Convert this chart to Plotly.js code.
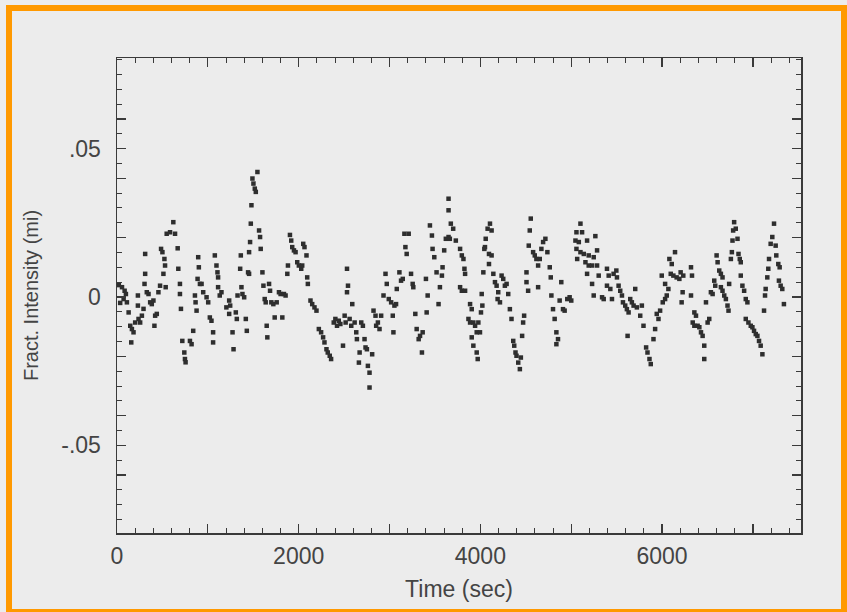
<!DOCTYPE html>
<html>
<head>
<meta charset="utf-8">
<script src="https://cdn.plot.ly/plotly-3.0.1.min.js"></script>
<style>
  html, body { margin:0; padding:0; background:#f3f3f3; }
  #wrap { position:relative; width:847px; height:612px; overflow:hidden; }
  #chart { position:absolute; left:0; top:0; width:847px; height:612px; }
  #frame { position:absolute; left:6px; top:5px; width:841px; height:610px; box-sizing:border-box;
           border:6px solid #ff9900; pointer-events:none; }
</style>
</head>
<body>
<div id="wrap">
  <div id="chart"></div>
  <div id="frame"></div>
</div>
<script>
// Time (sec) and fractional intensity in six segments
const time1 = [20,35,55,84,98,73,109,128,146,164,182,157,200,237,255,274,230,230,292,310,310,303,328,347,365,383,401,420,412,438,456,474,485,500,511,522,529,536,547,584,620,639,668,675,693,693,704,719,741,748,755,803,821,839,858,865,876,894,901,887,913,931,949,986,1004,1022,1040,1058,1058,1077,1095,1106,1113,1113,1131,1150,1204];
const value1 = [0.004,-0.002,0.0033,0.0021,0.001,-0.0007,-0.0018,-0.0052,-0.0097,-0.0108,-0.0119,-0.0153,-0.0086,-0.0074,-0.0086,-0.0063,0.0005,-0.0029,-0.004,0.0145,0.0078,0.0044,0.0016,0.001,-0.0018,-0.0024,-0.0012,-0.0063,-0.0097,-0.0057,0.0016,0.0038,0.0162,0.0151,0.0078,0.0128,0.0106,0.0033,0.0213,0.0218,0.0252,0.0213,0.0164,0.0095,0.0044,0.001,-0.004,-0.0148,-0.0187,-0.0209,-0.022,-0.0148,-0.0159,-0.0114,0.0005,-0.0018,-0.0046,0.0134,0.01,0.0061,0.0044,0.0044,0.0016,-0.0001,-0.0018,-0.0069,-0.008,-0.0119,-0.0153,0.014,0.0106,0.0083,0.0066,0.0033,0.0005,0.0016,-0.0035];

const time2 = [1235,1246,1235,1272,1283,1308,1319,1327,1356,1363,1370,1381,1400,1418,1429,1443,1454,1454,1465,1473,1480,1491,1502,1517,1528,1546,1564,1575,1582,1601,1612,1626,1637,1648,1655,1674,1685,1699,1721,1736,1758,1783,1801,1820,1838,1856,1875,1882,1904,1918,1929,1948,1966,1984,2002,2028,2039,2050,2064,2086,2094,2101,2130,2149,2174,2196,2222,2247,2269,2284,2306,2320,2342,2357,2386,2404,2422,2441,2459,2488];
const value2 = [-0.0012,-0.0029,-0.0057,-0.0119,-0.0176,-0.0052,-0.0074,0.0005,0.0095,0.014,0.0033,0.001,-0.0001,-0.0074,-0.0114,0.0083,0.0078,0.0151,0.0185,0.0247,0.0309,0.0399,0.0382,0.0365,0.0354,0.0421,0.0224,0.0202,0.0162,0.0083,0.0038,-0.0007,-0.0018,-0.0097,-0.0136,0.0044,0.0021,-0.0018,-0.0024,-0.0069,-0.0018,0.0016,0.001,-0.0069,0.001,0.0005,0.0078,0.0106,0.0209,0.019,0.0168,0.0157,0.0151,0.0117,0.0106,0.0095,0.0106,0.0179,0.0168,0.014,0.0066,0.0044,-0.0012,-0.0024,-0.0035,-0.0046,-0.0108,-0.0119,-0.0136,-0.0153,-0.0176,-0.0187,-0.0198,-0.0209,-0.0086,-0.0074,-0.0097,-0.008,-0.0091,-0.0164];

const time3 = [2532,2543,2532,2590,2506,2517,2561,2579,2616,2634,2641,2689,2707,2725,2736,2751,2671,2663,2762,2780,2809,2780,2824,2846,2872,2890,2853,2908,2934,2956,2970,2992,3018,3036,3054,3072,3043,3080,3109,3127,3146,3164,3175,3189,3211,3237,3255,3262,3284,3299,3321,3336,3357,3365,3401,3420,3409,3445,3467,3474,3493,3518,3540,3555,3577,3584,3602,3620,3650,3650,3675,3701,3650,3664,3730];
const value3 = [0.0095,0.0038,0.0016,-0.0024,-0.0063,-0.0086,-0.0074,-0.0097,-0.0086,-0.0119,-0.0142,-0.0086,-0.0097,-0.0142,-0.017,-0.0176,-0.0187,-0.0221,-0.0232,-0.0255,-0.0193,-0.0305,-0.0046,-0.0063,-0.0086,-0.0108,-0.0097,-0.0063,0.0005,0.0078,0.0044,-0.0007,-0.0018,-0.0063,-0.0029,-0.0024,-0.0119,0.0027,0.0083,0.0055,0.0061,0.0213,0.0168,0.0145,0.0213,0.0078,0.0044,0.0033,-0.0057,-0.0108,-0.0142,-0.0131,-0.0187,-0.0119,0.0061,0.0005,-0.0052,0.0241,0.0207,0.0162,0.0134,0.0083,-0.0024,0.0033,0.0072,0.01,0.0157,0.0196,0.0331,0.0292,0.0247,0.023,0.0202,0.0196,0.019];

const time4 = [3777,3796,3814,3825,3832,3777,3796,3832,3887,3905,3869,3887,3923,3942,3978,3960,3996,3905,3923,3960,3971,4015,4022,4007,4033,4051,4059,4080,4106,4124,4044,4095,4124,4095,4143,4161,4179,4197,4190,4216,4234,4252,4270,4289,4307,4325,4343,4362,4373,4387,4398,4417,4435,4446,4460,4471,4482,4508,4508,4526,4544,4555,4533,4581,4599,4617,4636,4654,4672,4691,4716,4738,4636,4764,4775,4782,4800,4818,4837,4855,4837,4873,4891,4910,4928,4957,4983,5001];
const value4 = [0.0162,0.014,0.0128,0.0095,0.0078,0.0033,0.0021,0.0021,-0.0024,-0.0041,-0.0074,-0.0086,-0.0086,-0.0097,-0.0086,-0.0119,-0.0119,-0.0136,-0.0164,-0.0187,-0.0209,0.001,-0.0029,-0.0052,0.0083,0.0168,0.0196,0.023,0.0247,0.0224,0.0162,0.0145,0.014,0.0111,0.0078,0.005,0.0038,0.0016,-0.0007,-0.0018,0.0072,0.0061,0.0038,0.0044,0.001,-0.0041,-0.0074,-0.0148,-0.0164,-0.0187,-0.0198,-0.0221,-0.0243,-0.0204,-0.0131,-0.0086,-0.0063,0.0083,0.005,0.0021,0.0224,0.0264,0.0173,0.0151,0.014,0.0128,0.0106,0.0128,0.0162,0.0185,0.0196,0.0151,0.0033,0.01,0.0066,0.0005,-0.0041,-0.0074,-0.0119,-0.0142,-0.0159,-0.0012,0.005,-0.0041,-0.0046,-0.0007,-0.0001,-0.0012];

const time5 = [5102,5058,5120,5047,5084,5175,5266,5058,5102,5139,5193,5248,5066,5157,5193,5230,5285,5285,5175,5303,5230,5340,5248,5358,5394,5413,5394,5431,5449,5467,5497,5504,5522,5540,5559,5570,5595,5613,5632,5621,5650,5668,5687,5705,5723,5760,5778,5796,5825,5840,5862,5876,5906,5924,5942,5961,5979,6008,6034,6052,6070,5997,6034,6081,6107,6143,6096,6125,6161,6191,6205,6234,6227,6216];
const value5 = [0.0247,0.0218,0.0218,0.019,0.0185,0.019,0.0205,0.0162,0.0151,0.0145,0.014,0.0134,0.0128,0.0117,0.0106,0.0106,0.0157,0.0106,0.0078,0.0072,0.0044,-0.0001,0.0005,-0.0007,0.0095,0.0072,0.0038,0.0027,-0.0007,0.0078,0.0089,0.0066,0.0038,0.0021,0.0005,-0.0018,-0.0029,-0.0041,-0.0052,-0.0131,-0.0007,-0.0018,-0.0029,0.0027,-0.0035,-0.0063,-0.0029,-0.0097,-0.017,-0.0187,-0.0209,-0.0226,-0.0142,-0.0108,-0.0057,-0.0074,-0.0046,-0.0018,-0.0007,0.0005,0.0027,0.0072,0.0044,0.0128,0.0111,0.0151,0.0078,0.0072,0.0066,0.0061,0.0083,0.0072,0.0016,-0.0018];

const time6 = [6319,6330,6319,6356,6374,6338,6356,6392,6411,6429,6447,6465,6465,6502,6484,6520,6538,6557,6575,6586,6601,6612,6630,6648,6666,6648,6666,6685,6703,6721,6732,6739,6758,6769,6776,6783,6794,6812,6831,6842,6856,6867,6867,6885,6904,6922,6940,6922,6951,6977,6995,7013,7032,7050,7068,7086,7105,7123,7134,7141,7159,7170,7178,7196,7214,7233,7251,7258,7280,7295,7287,7306,7324,7342];
const value6 = [0.01,0.0072,0.0005,-0.0052,-0.0063,-0.0086,-0.0097,-0.0097,-0.0102,-0.0119,-0.0131,-0.0164,-0.0209,-0.0086,-0.0018,-0.0074,0.0016,0.001,0.0055,0.0038,0.014,0.0117,0.0089,0.0078,0.0066,0.0033,0.0021,0.0005,-0.0007,-0.0029,-0.0046,0.0044,0.0128,0.0151,0.019,0.0224,0.0252,0.023,0.0196,0.0145,0.0128,0.0117,0.0072,0.0038,0.0021,-0.0007,-0.0018,-0.0074,-0.0086,-0.0097,-0.0102,-0.0114,-0.0125,-0.0131,-0.0148,-0.0164,-0.0193,-0.0046,0.0005,0.0027,0.0066,0.0095,0.0128,0.0179,0.0202,0.0247,0.0173,0.014,0.0111,0.01,0.0055,0.0038,0.0027,-0.0024];

// Tick labels
const xTickVals = [0,1000,2000,3000,4000,5000,6000,7000];
const xTickText = ['0','','2000','','4000','','6000',''];
const yTickVals = [-0.06,-0.05,-0.04,-0.02,0,0.02,0.04,0.05,0.06];
const yTickText = ['','-.05','','','0','','','.05',''];

const times = [].concat(time1,time2,time3,time4,time5,time6);
const values = [].concat(value1,value2,value3,value4,value5,value6);

const font = 'Liberation Sans, Arial, Helvetica, sans-serif';
const ink = '#3a3a3a';

const trace = {
  type:'scatter', mode:'markers', x:times, y:values,
  marker:{symbol:'square', size:4.5, color:'#2e2e2e', line:{width:0}},
  hoverinfo:'skip'
};

const axisCommon = {
  showgrid:false, zeroline:false, showline:true, linecolor:ink, linewidth:1.5,
  mirror:'ticks', ticks:'inside', ticklen:9, tickwidth:1.3, tickcolor:ink,
  tickfont:{family:font, size:23, color:'#444'}
};

const layout = {
  width:847, height:612,
  paper_bgcolor:'#ececec', plot_bgcolor:'#ececec',
  margin:{l:117, r:46, t:58, b:79},
  showlegend:false,
  xaxis: Object.assign({}, axisCommon, {
    range:[0,7530], tickmode:'array', tickvals:xTickVals, ticktext:xTickText,
    ticklabelstandoff:2,
    minor:{dtick:200, tick0:0, ticklen:5, tickwidth:1, tickcolor:ink, ticks:'inside'},
    title:{text:'Time (sec)', font:{family:font, size:23, color:'#444'}, standoff:13}
  }),
  yaxis: Object.assign({}, axisCommon, {
    range:[-0.0795,0.0805], tickmode:'array', tickvals:yTickVals, ticktext:yTickText,
    ticklabelstandoff:10,
    minor:{dtick:0.005, tick0:0, ticklen:5, tickwidth:1, tickcolor:ink, ticks:'inside'},
    title:{text:'Fract. Intensity (mi)', font:{family:font, size:20, color:'#444'}, standoff:17}
  })
};

Plotly.newPlot('chart', [trace], layout, {displayModeBar:false, staticPlot:true});
</script>
</body>
</html>
